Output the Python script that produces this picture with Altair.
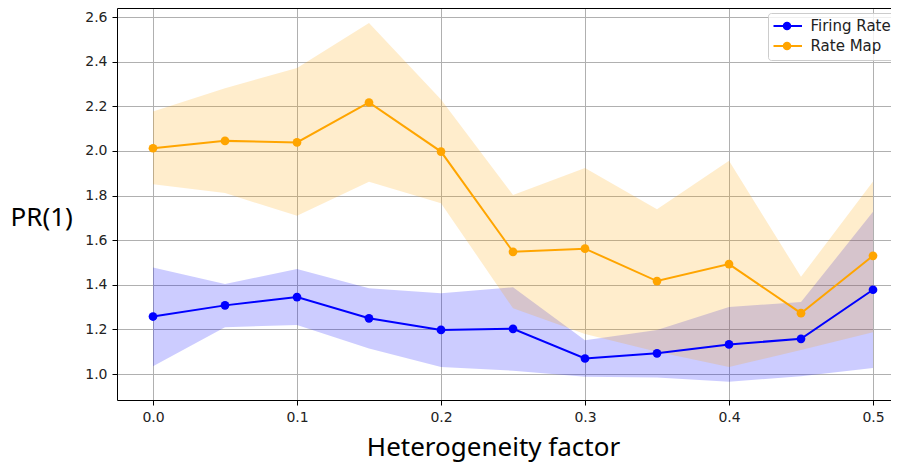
import altair as alt
import pandas as pd

# ---- data ----
x_vals = [0.0, 0.05, 0.1, 0.15, 0.2, 0.25, 0.3, 0.35, 0.4, 0.45, 0.5]

fr_mean = [1.258, 1.308, 1.345, 1.250, 1.198, 1.203, 1.070, 1.093, 1.133, 1.158, 1.378]
fr_low = [1.035, 1.210, 1.220, 1.115, 1.032, 1.015, 0.988, 0.985, 0.966, 0.990, 1.027]
fr_high = [1.478, 1.404, 1.471, 1.385, 1.362, 1.389, 1.152, 1.198, 1.301, 1.323, 1.727]

rm_mean = [2.012, 2.045, 2.038, 2.217, 1.997, 1.548, 1.562, 1.417, 1.493, 1.273, 1.530]
rm_low = [1.851, 1.811, 1.709, 1.862, 1.766, 1.295, 1.180, 1.100, 1.032, 1.108, 1.188]
rm_high = [2.177, 2.281, 2.371, 2.573, 2.230, 1.803, 1.924, 1.739, 1.956, 1.436, 1.863]

series_names = ["Firing Rate", "Rate Map"]
marker_names = ["Firing Rate marker", "Rate Map marker"]
band_names = ["Firing Rate band", "Rate Map band"]
series_colors = ["#0000ff", "#ffa500"]
x_ticks = [0.0, 0.1, 0.2, 0.3, 0.4, 0.5]
y_ticks = [1.0, 1.2, 1.4, 1.6, 1.8, 2.0, 2.2, 2.4, 2.6]

rows = []
for i, (m, lo, hi) in enumerate([
    (fr_mean, fr_low, fr_high),
    (rm_mean, rm_low, rm_high),
]):
    for xv, mv, lv, hv in zip(x_vals, m, lo, hi):
        rows.append({"series": series_names[i], "marker": marker_names[i], "band": band_names[i],
                     "x": xv, "mean": mv, "low": lv, "high": hv})
df = pd.DataFrame(rows)

W, H = 774, 392
PX_X = 1440.0   # pixels per x unit
PX_Y = 223.2    # pixels per y unit

x_scale = alt.Scale(domain=[-0.025, -0.025 + W / PX_X], nice=False, zero=False)
y_scale = alt.Scale(domain=[2.6 + 9 / PX_Y - H / PX_Y, 2.6 + 9 / PX_Y], nice=False, zero=False)

x_axis = alt.Axis(
    values=x_ticks, format=".1f", title="Heterogeneity factor",
    labelFont="DejaVu Sans", labelFontSize=14, labelColor="#222222",
    tickSize=5, tickColor="black", labelPadding=5,
    domain=True, domainColor="black", domainWidth=1,
    grid=True, gridColor="#b0b0b0", gridWidth=1,
    titleFont="Noto Sans", titleFontSize=26, titleFontWeight="normal", titleColor="black",
    titleX=376, titleY=55, titleAlign="center", titleBaseline="alphabetic", titleAngle=0,
)
# top spine only (the right spine of the original is cut off by the image edge)
x_top_axis = alt.Axis(
    orient="top", labels=False, ticks=False, grid=False, title=None,
    domain=True, domainColor="black", domainWidth=1,
)
y_axis = alt.Axis(
    values=y_ticks, format=".1f", title="PR(1)",
    labelFont="DejaVu Sans", labelFontSize=14, labelColor="#222222",
    tickSize=5, tickColor="black", labelPadding=5,
    domain=True, domainColor="black", domainWidth=1,
    grid=True, gridColor="#b0b0b0", gridWidth=1,
    titleFont="Noto Sans", titleFontSize=26, titleFontWeight="normal", titleColor="black",
    titleX=-107, titleY=217, titleAlign="left", titleBaseline="alphabetic", titleAngle=0,
)

LEG_X, LEG_Y = 651, 5

line_legend = alt.Legend(
    title=None, orient="none", legendX=LEG_X, legendY=LEG_Y,
    padding=5.5, rowPadding=4, clipHeight=15,
    labelFont="DejaVu Sans", labelFontSize=15, labelColor="#222222",
    labelOffset=7.5, symbolOffset=-2.5,
    symbolType="stroke", symbolSize=900, symbolStrokeWidth=2, symbolOpacity=1,
    strokeColor="#cccccc", fillColor="rgba(255,255,255,0.8)", cornerRadius=3,
    zindex=0,
)
marker_legend = alt.Legend(
    title=None, orient="none", legendX=LEG_X, legendY=LEG_Y,
    padding=5.5, rowPadding=4, clipHeight=15,
    labelFont="DejaVu Sans", labelFontSize=15, labelExpr="''",
    labelOffset=7.5, symbolOffset=6,
    symbolType="circle", symbolSize=72, symbolStrokeWidth=0, symbolOpacity=1,
    zindex=1,
)

base = alt.Chart(df)

bands = base.mark_area(opacity=0.2).encode(
    x=alt.X("x:Q", scale=x_scale, axis=x_axis),
    y=alt.Y("low:Q", scale=y_scale, axis=y_axis),
    y2="high:Q",
    color=alt.Color("band:N", scale=alt.Scale(domain=band_names, range=series_colors), legend=None),
)
lines = base.mark_line(strokeWidth=2).encode(
    x=alt.X("x:Q", scale=x_scale, axis=x_top_axis),
    y=alt.Y("mean:Q", scale=y_scale),
    stroke=alt.Stroke("series:N", scale=alt.Scale(domain=series_names, range=series_colors),
                      legend=line_legend),
)
points = base.mark_circle(size=76, opacity=1).encode(
    x=alt.X("x:Q", scale=x_scale, axis=None),
    y=alt.Y("mean:Q", scale=y_scale),
    fill=alt.Fill("marker:N", scale=alt.Scale(domain=marker_names, range=series_colors),
                  legend=marker_legend),
)

chart = (
    alt.layer(bands, lines, points)
    .resolve_axis(x="independent")
    .properties(
        width=W, height=H,
        autosize=alt.AutoSizeParams(type="none"),
        padding={"left": 109, "top": 0, "right": 0, "bottom": 63},
        background="white",
    )
    .configure_view(strokeWidth=0)
)

chart.save("out.html", embed_options={"renderer": "svg", "actions": False})
